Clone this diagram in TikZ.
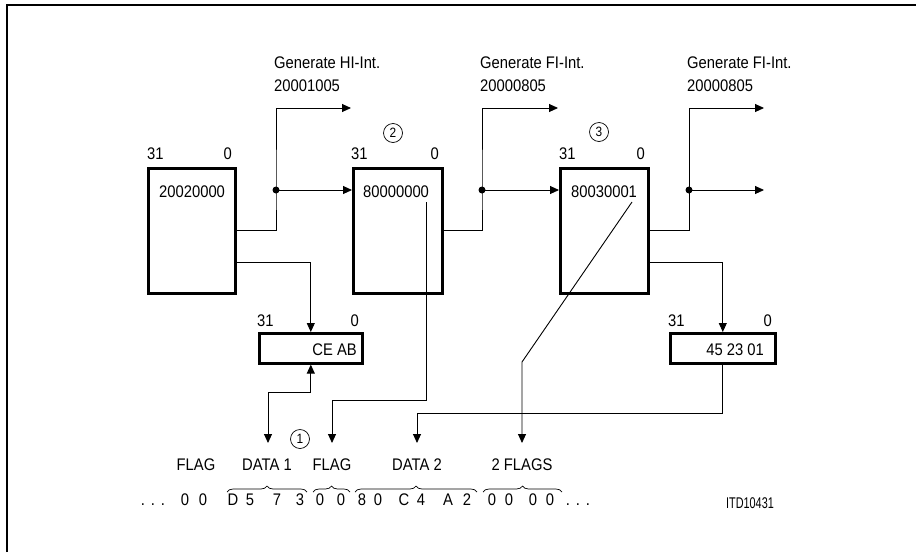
\documentclass[tikz,border=0pt]{standalone}
\usepackage{fontspec}
\setmainfont[FakeStretch=0.88]{Liberation Sans}
\newfontfamily\narrowfont[FakeStretch=0.7]{Liberation Sans}
\usetikzlibrary{arrows.meta,decorations.pathreplacing}
\begin{document}
\begin{tikzpicture}[x=1pt,y=-1pt,
  reg/.style={draw,line width=2.6pt,inner sep=0pt,anchor=north west},
  wire/.style={line width=0.9pt},
  arr/.style={wire,-{Triangle[length=9pt,width=8pt]}},
  darr/.style={wire,{Triangle[length=9pt,width=8pt]}-{Triangle[length=9pt,width=8pt]}},
  lbl/.style={font=\fontsize{16.8}{19}\selectfont,inner sep=0pt},
  num/.style={draw,circle,line width=0.7pt,minimum size=19pt,inner sep=0pt,font=\fontsize{13.5}{15}\selectfont},
  jdot/.style={circle,fill,inner sep=0pt,minimum size=7pt},
  brc/.style={decorate,decoration={brace,amplitude=6pt},line width=0.7pt}]
\useasboundingbox (0,0) rectangle (917,552);
% frame
\draw[line width=1.8pt] (7,552) -- (7,5) -- (916,5);

% registers
\node[reg,minimum width=87pt,minimum height=125pt] (b1) at (147,167) {};
\node[reg,minimum width=89pt,minimum height=125pt] (b2) at (352,167) {};
\node[reg,minimum width=88pt,minimum height=125pt] (b3) at (559,167) {};
\node[reg,minimum width=103pt,minimum height=30pt] (r1) at (258,332) {};
\node[reg,minimum width=105pt,minimum height=30pt] (r2) at (669,332) {};

% register contents
\node[lbl,anchor=base west] (t1) at (159,197) {20020000};
\node[lbl,anchor=base west] (t2) at (363,197) {80000000};
\node[lbl,anchor=base west] (t3) at (571,197) {80030001};
\node[lbl,anchor=base east] (t4) at (357,355) {CE AB};
\node[lbl,anchor=base east] (t5) at (764,355) {45\hspace{4pt}23\hspace{4pt}01};

% bit labels
\node[lbl,anchor=base west] (h1a) at (147,159) {31};
\node[lbl,anchor=base east] (h1b) at (232,159) {0};
\node[lbl,anchor=base west] (h2a) at (351,159) {31};
\node[lbl,anchor=base east] (h2b) at (439,159) {0};
\node[lbl,anchor=base west] (h3a) at (559,159) {31};
\node[lbl,anchor=base east] (h3b) at (645,159) {0};
\node[lbl,anchor=base west] (h4a) at (257,326) {31};
\node[lbl,anchor=base east] (h4b) at (359,326) {0};
\node[lbl,anchor=base west] (h5a) at (668,326) {31};
\node[lbl,anchor=base east] (h5b) at (772,326) {0};

% circled numbers
\node[num] (c1) at (300,439) {1};
\node[num] (c2) at (393,133) {2};
\node[num] (c3) at (599,132) {3};

% generate labels
\node[lbl,anchor=base west] (g1a) at (274,68) {Generate HI-Int.};
\node[lbl,anchor=base west] (g1b) at (274,91) {20001005};
\node[lbl,anchor=base west] (g2a) at (480,68) {Generate FI-Int.};
\node[lbl,anchor=base west] (g2b) at (480,91) {20000805};
\node[lbl,anchor=base west] (g3a) at (687,68) {Generate FI-Int.};
\node[lbl,anchor=base west] (g3b) at (687,91) {20000805};

% junctions and ends
\coordinate (j1) at (276,190);
\coordinate (j2) at (482,190);
\coordinate (j3) at (689,190);
\coordinate (e1) at (351,108);
\coordinate (e2) at (558,108);
\coordinate (e3) at (764,108);
\coordinate (e4) at (764,190);

\draw[arr] (b1.east) -| (j1) |- (e1);
\draw[arr] (b2.east) -| (j2) |- (e2);
\draw[arr] (b3.east) -| (j3) |- (e3);
\draw[arr] (j1) -- (b2.west |- j1);
\draw[arr] (j2) -- (b3.west |- j2);
\draw[arr] (j3) -- (e4);
\node[jdot] (jd1) at (j1) {};
\node[jdot] (jd2) at (j2) {};
\node[jdot] (jd3) at (j3) {};

% to the small registers
\draw[arr] ([yshift=-31.5pt]b1.east) -| (r1.north);
\draw[arr] ([yshift=-31.5pt]b3.east) -| (r2.north);

% bottom labels
\node[lbl,anchor=base] (l1) at (196,470) {FLAG};
\node[lbl,anchor=base] (l2) at (267,470) {DATA 1};
\node[lbl,anchor=base] (l3) at (332,470) {FLAG};
\node[lbl,anchor=base] (l4) at (417,470) {DATA 2};
\node[lbl,anchor=base] (l5) at (522,470) {2 FLAGS};

\coordinate (a1) at (268,443);
\coordinate (a2) at (332,443);
\coordinate (a3) at (417,443);
\coordinate (a4) at (522,443);
\coordinate (s2) at (426,202);
\coordinate (s3) at (632,202);

\draw[darr] (r1.south) -- ++(0,28) -| (a1);
\draw[arr] (s2) -- ++(0,198) -| (a2);
\draw[arr] (r2.south) -- ++(0,49) -| (a3);
\draw[arr] (s3) -- (522,362) -- (a4);

% braces
\draw[brc] (227,492) -- (307,492);
\draw[brc] (313,492) -- (350,492);
\draw[brc] (355,492) -- (477,492);
\draw[brc] (483,492) -- (562,492);

% byte row
\foreach \x/\c in {185/0,203/0,233/D,250/5,277/7,300/3,320/0,341/0,362/8,378/0,404/C,421/4,448/A,467/2,492/0,509/0,533/0,550/0}
  \node[lbl,anchor=base] (n\x) at (\x,505) {\c};
\foreach \x in {143,153,163,568,578,588}
  \node[lbl,anchor=base] (p\x) at (\x,505) {.};

\node[inner sep=0pt,anchor=base,font=\narrowfont\fontsize{15.5}{18}\selectfont] (itd) at (750,508) {ITD10431};
\end{tikzpicture}
\end{document}
